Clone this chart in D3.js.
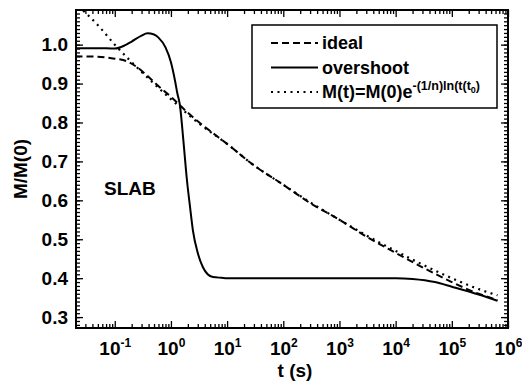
<!DOCTYPE html>
<html>
<head>
<meta charset="utf-8">
<script src="https://cdn.jsdelivr.net/npm/d3@7"></script>
<style>
  body { margin: 0; background: #fff; }
  svg { display: block; font-family: "Liberation Sans", Arial, sans-serif; }
</style>
</head>
<body>
<svg id="chart" width="522" height="389"></svg>
<script>
// values
const tIdeal = [0.02, 0.05, 0.1, 0.16, 0.25, 0.42, 0.7, 1, 2, 3, 5, 10, 30, 100, 300, 1e3, 3e3, 1e4, 3e4, 1e5, 3e5, 6.5e5];
const mIdeal = [0.970, 0.969, 0.964, 0.958, 0.942, 0.914, 0.885, 0.866, 0.825, 0.803, 0.778, 0.745, 0.69, 0.64, 0.593, 0.55, 0.507, 0.465, 0.428, 0.39, 0.36, 0.344];

const tOver = [0.02, 0.05, 0.1, 0.15, 0.2, 0.3, 0.38, 0.5, 0.6, 0.8, 1.0, 1.18, 1.3, 1.45, 1.65, 1.93, 2.2, 2.46, 3.0, 3.71, 4.5, 5.6, 8, 10, 100, 1e3, 1e4, 2e4, 5e4, 1e5, 3e5, 6.5e5];
const mOver = [0.991, 0.991, 0.990, 0.998, 1.008, 1.023, 1.029, 1.026, 1.018, 0.993, 0.955, 0.908, 0.875, 0.843, 0.76, 0.651, 0.58, 0.523, 0.465, 0.428, 0.41, 0.403, 0.401, 0.400, 0.400, 0.400, 0.400, 0.398, 0.39, 0.378, 0.358, 0.342];

const tFit = [0.015, 0.02, 0.05, 0.1, 0.3, 1, 3, 10, 30, 100, 300, 1e3, 3e3, 1e4, 3e4, 1e5, 3e5, 6.5e5];
const mFit = [1.12, 1.105, 1.05, 1.0, 0.93, 0.86, 0.80, 0.745, 0.69, 0.64, 0.595, 0.55, 0.51, 0.47, 0.435, 0.40, 0.372, 0.356];

const yTicks = [0.3, 0.4, 0.5, 0.6, 0.7, 0.8, 0.9, 1.0];
const xExps = [-1, 0, 1, 2, 3, 4, 5, 6];

const legendItems = [
  { label: "ideal", dash: "7,4" },
  { label: "overshoot", dash: null },
  { label: "fit", dash: "2,4.5" }
];

const W = 522, H = 389;
const margin = { top: 10, right: 14, bottom: 61, left: 76 };
const svg = d3.select("#chart");

const x = d3.scaleLog()
  .domain([Math.pow(10, -1.69), 1e6])
  .range([margin.left, W - margin.right]);
const y = d3.scaleLinear()
  .domain([0.272, 1.089])
  .range([H - margin.bottom, margin.top]);

// minor ticks
const xMinor = [];
for (let e = -2; e < 6; e++) {
  for (let k = 2; k <= 9; k++) {
    const v = k * Math.pow(10, e);
    if (v >= x.domain()[0] && v <= 1e6) xMinor.push(v);
  }
}
const yMinor = d3.range(28, 109).map(d => d / 100);

const axisG = svg.append("g").attr("class", "axes");

function styleAxis(g) {
  g.select(".domain").remove();
  g.selectAll("line").attr("stroke", "#000").attr("stroke-width", 1.3);
}

// bottom
axisG.append("g")
  .attr("transform", `translate(0,${H - margin.bottom})`)
  .call(d3.axisBottom(x).tickValues(xMinor).tickSize(-4).tickFormat(""))
  .call(styleAxis);
const bottomMajor = axisG.append("g")
  .attr("transform", `translate(0,${H - margin.bottom})`)
  .call(d3.axisBottom(x).tickValues(xExps.map(e => Math.pow(10, e))).tickSize(-7).tickFormat(""))
  .call(styleAxis);
bottomMajor.selectAll(".tick").append("text")
  .attr("y", 27)
  .attr("fill", "#000")
  .attr("text-anchor", "middle")
  .style("font-size", "19px")
  .style("font-weight", "bold")
  .each(function (d) {
    const t = d3.select(this);
    const e = Math.round(Math.log10(d));
    t.append("tspan").text("10");
    t.append("tspan").attr("dy", -8).style("font-size", "12px").text(e);
  });

// top
axisG.append("g")
  .attr("transform", `translate(0,${margin.top})`)
  .call(d3.axisTop(x).tickValues(xMinor).tickSize(-4).tickFormat(""))
  .call(styleAxis);
axisG.append("g")
  .attr("transform", `translate(0,${margin.top})`)
  .call(d3.axisTop(x).tickValues(xExps.map(e => Math.pow(10, e))).tickSize(-7).tickFormat(""))
  .call(styleAxis);

// left
axisG.append("g")
  .attr("transform", `translate(${margin.left},0)`)
  .call(d3.axisLeft(y).tickValues(yMinor).tickSize(-4).tickFormat(""))
  .call(styleAxis);
const leftMajor = axisG.append("g")
  .attr("transform", `translate(${margin.left},0)`)
  .call(d3.axisLeft(y).tickValues(yTicks).tickSize(-7).tickFormat(d3.format(".1f")))
  .call(styleAxis);
leftMajor.selectAll("text")
  .attr("x", -8)
  .attr("fill", "#000")
  .style("font-size", "19px")
  .style("font-weight", "bold")
  .style("font-family", "'Liberation Sans', Arial, sans-serif");

// right
axisG.append("g")
  .attr("transform", `translate(${W - margin.right},0)`)
  .call(d3.axisRight(y).tickValues(yMinor).tickSize(-4).tickFormat(""))
  .call(styleAxis);
axisG.append("g")
  .attr("transform", `translate(${W - margin.right},0)`)
  .call(d3.axisRight(y).tickValues(yTicks).tickSize(-7).tickFormat(""))
  .call(styleAxis);

// frame
svg.append("rect")
  .attr("x", margin.left)
  .attr("y", margin.top)
  .attr("width", W - margin.left - margin.right)
  .attr("height", H - margin.top - margin.bottom)
  .attr("fill", "none")
  .attr("stroke", "#000")
  .attr("stroke-width", 2);

// curves
svg.append("clipPath").attr("id", "plotclip")
  .append("rect")
  .attr("x", margin.left)
  .attr("y", margin.top)
  .attr("width", W - margin.left - margin.right)
  .attr("height", H - margin.top - margin.bottom);

const line = d3.line()
  .x(d => x(d[0]))
  .y(d => y(d[1]))
  .curve(d3.curveMonotoneX);

const curves = svg.append("g").attr("clip-path", "url(#plotclip)");
curves.append("path")
  .datum(d3.zip(tFit, mFit))
  .attr("d", line)
  .attr("fill", "none")
  .attr("stroke", "#000")
  .attr("stroke-width", 2.2)
  .attr("stroke-dasharray", legendItems[2].dash);
curves.append("path")
  .datum(d3.zip(tIdeal, mIdeal))
  .attr("d", line)
  .attr("fill", "none")
  .attr("stroke", "#000")
  .attr("stroke-width", 2)
  .attr("stroke-dasharray", legendItems[0].dash);
curves.append("path")
  .datum(d3.zip(tOver, mOver))
  .attr("d", line)
  .attr("fill", "none")
  .attr("stroke", "#000")
  .attr("stroke-width", 2);

// labels
svg.append("text")
  .attr("x", 295)
  .attr("y", 377)
  .attr("text-anchor", "middle")
  .style("font-size", "19px")
  .style("font-weight", "bold")
  .text("t (s)");

svg.append("text")
  .attr("transform", "translate(27,169) rotate(-90)")
  .attr("text-anchor", "middle")
  .style("font-size", "19px")
  .style("font-weight", "bold")
  .text("M/M(0)");

svg.append("text")
  .attr("x", 104)
  .attr("y", 195)
  .style("font-size", "19px")
  .style("font-weight", "bold")
  .text("SLAB");

// legend
const lg = svg.append("g");
lg.append("rect")
  .attr("x", 252).attr("y", 25)
  .attr("width", 245).attr("height", 83)
  .attr("fill", "#fff")
  .attr("stroke", "#000")
  .attr("stroke-width", 1.5);

legendItems.forEach((d, i) => {
  const yy = 43 + i * 24.5;
  lg.append("line")
    .attr("x1", 271).attr("x2", 318)
    .attr("y1", yy).attr("y2", yy)
    .attr("stroke", "#000")
    .attr("stroke-width", 2)
    .attr("stroke-dasharray", d.dash);
  const t = lg.append("text")
    .attr("x", 322)
    .attr("y", yy + 6)
    .style("font-size", "18px")
    .style("font-weight", "bold");
  if (i < 2) {
    t.text(d.label);
  } else {
    t.append("tspan").text("M(t)=M(0)e");
    t.append("tspan").attr("dy", -8).style("font-size", "12.5px").text("-(1/n)ln(t(t");
    t.append("tspan").attr("dy", 3).style("font-size", "9px").text("0");
    t.append("tspan").attr("dy", -3).style("font-size", "12.5px").text(")");
  }
});
</script>
</body>
</html>
